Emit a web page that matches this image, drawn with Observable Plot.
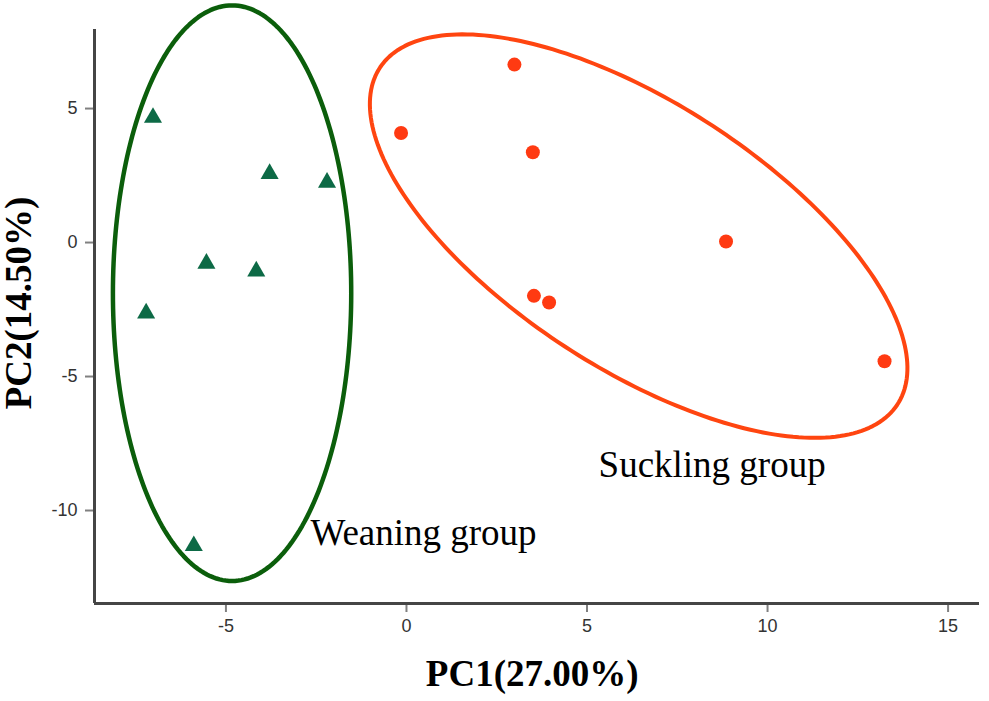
<!DOCTYPE html>
<html>
<head>
<meta charset="utf-8">
<script src="https://cdn.jsdelivr.net/npm/d3@7"></script>
<script src="https://cdn.jsdelivr.net/npm/@observablehq/plot@0.6"></script>
<style>
  html, body { margin: 0; padding: 0; background: #fff; }
</style>
</head>
<body>
<div id="chart"></div>
<script>
// ---- data ----
const weaningPC1 = [-7.02, -3.79, -2.20, -5.54, -4.16, -7.21, -5.89];
const weaningPC2 = [4.66, 2.57, 2.24, -0.78, -1.07, -2.64, -11.32];
const sucklingPC1 = [2.99, -0.15, 3.50, 8.85, 3.53, 3.95, 13.24];
const sucklingPC2 = [6.64, 4.09, 3.37, 0.04, -1.99, -2.24, -4.43];

// group ellipses: centre, semi-axes and rotation (degrees) in PC units
const ellipseGroup = ["Weaning group", "Suckling group"];
const ellipseCX = [-4.83, 6.43];
const ellipseCY = [-1.89, 0.24];
const ellipseA = [3.30, 9.63];
const ellipseB = [10.74, 4.40];
const ellipseAngle = [0, -45.5];

const labelText = ["Weaning group", "Suckling group"];
const labelPC1 = [-2.66, 5.32];
const labelPC2 = [-10.84, -8.32];

const xTicks = [-5, 0, 5, 10, 15];
const yTicks = [-10, -5, 0, 5];
const xDomain = [-8.64, 15.87];
const yDomain = [-13.47, 7.95];
const xTitle = "PC1(27.00%)";
const yTitle = "PC2(14.50%)";

// ---- build tables ----
const weaning = weaningPC1.map((x, i) => ({x, y: weaningPC2[i]}));
const suckling = sucklingPC1.map((x, i) => ({x, y: sucklingPC2[i]}));
const labels = labelText.map((t, i) => ({t, x: labelPC1[i], y: labelPC2[i]}));

function ellipsePath(i) {
  const n = 240, th = ellipseAngle[i] * Math.PI / 180;
  const out = [];
  for (let k = 0; k < n; k++) {
    const t = 2 * Math.PI * k / n;
    const ex = ellipseA[i] * Math.cos(t), ey = ellipseB[i] * Math.sin(t);
    out.push({
      g: ellipseGroup[i],
      x: ellipseCX[i] + ex * Math.cos(th) - ey * Math.sin(th),
      y: ellipseCY[i] + ex * Math.sin(th) + ey * Math.cos(th)
    });
  }
  return out;
}
const greenEllipse = ellipsePath(0);
const orangeEllipse = ellipsePath(1);

const serif = "'Liberation Serif', 'Times New Roman', serif";
const sans = "'Liberation Sans', Arial, sans-serif";

const chart = Plot.plot({
  width: 989,
  height: 701,
  marginLeft: 94,
  marginRight: 10,
  marginTop: 29,
  marginBottom: 98,
  style: {background: "#fff", fontFamily: sans, overflow: "visible"},
  x: {domain: xDomain, axis: null},
  y: {domain: yDomain, axis: null},
  marks: [
    Plot.line(greenEllipse, {x: "x", y: "y", curve: "linear-closed", stroke: "#0b5e0b", strokeWidth: 4.5}),
    Plot.line(orangeEllipse, {x: "x", y: "y", curve: "linear-closed", stroke: "#ff4510", strokeWidth: 4}),
    Plot.dot(weaning, {x: "x", y: "y", symbol: "triangle", r: 6.7, fill: "#0d6a46", stroke: null}),
    Plot.dot(suckling, {x: "x", y: "y", symbol: "circle", r: 7, fill: "#ff3a12", stroke: null}),
    Plot.text(labels, {x: "x", y: "y", text: "t", textAnchor: "start", fontSize: 37, fontFamily: serif, fill: "#000"}),
    Plot.axisX({ticks: xTicks, tickFormat: d => String(d), tickSize: 9, tickPadding: 7, stroke: "#808080", strokeWidth: 2, fill: "#333", fontSize: 18, label: null}),
    Plot.axisY({ticks: yTicks, tickFormat: d => String(d), tickSize: 9, tickPadding: 8, stroke: "#808080", strokeWidth: 2, fill: "#333", fontSize: 18, label: null}),
    Plot.ruleY([yDomain[0]], {stroke: "#454545", strokeWidth: 3}),
    Plot.ruleX([xDomain[0]], {stroke: "#454545", strokeWidth: 3}),
    Plot.text([xTitle], {frameAnchor: "bottom", textAnchor: "middle", lineAnchor: "middle", dx: -4.8, dy: 70.2, fontSize: 37, fontWeight: "bold", fontFamily: serif, fill: "#000"}),
    Plot.text([yTitle], {frameAnchor: "left", textAnchor: "middle", lineAnchor: "middle", rotate: -90, dx: -75, dy: -13.5, fontSize: 37, fontWeight: "bold", fontFamily: serif, fill: "#000"})
  ]
});
document.getElementById("chart").appendChild(chart);
</script>
</body>
</html>
